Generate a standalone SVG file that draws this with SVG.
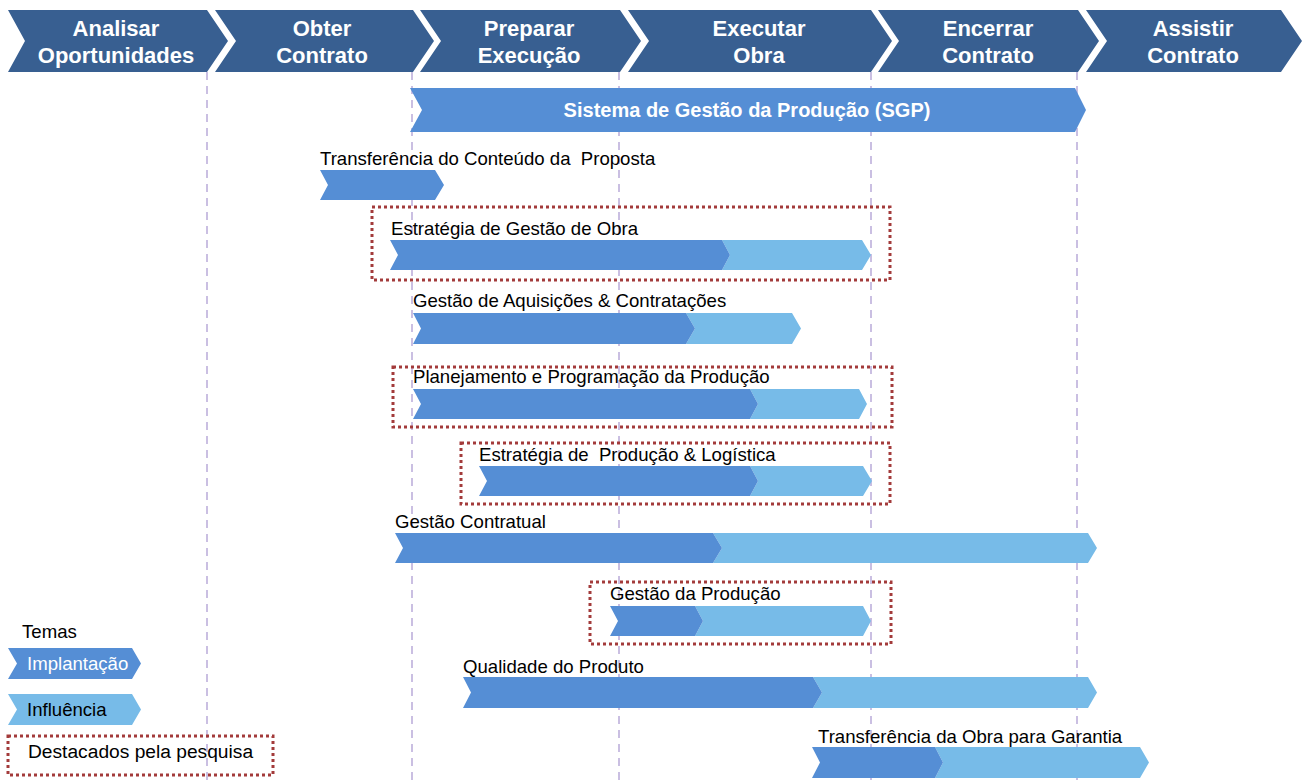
<svg xmlns="http://www.w3.org/2000/svg" width="1303" height="780" viewBox="0 0 1303 780">
<style>
.hdr{fill:#385F91}
.ht{font-family:"Liberation Sans",Arial,sans-serif;font-weight:bold;font-size:22px;fill:#fff;text-anchor:middle}
.dk{fill:#558ED5}
.lt{fill:#77BBE8}
.lbl{font-family:"Liberation Sans",Arial,sans-serif;font-size:18.6px;fill:#000;white-space:pre}
.grid{stroke:#B9AAD9;stroke-width:1.5;stroke-dasharray:8 6;fill:none}
.hl{fill:none;stroke:#A33B3B;stroke-width:3;stroke-dasharray:3 3}
</style>
<rect width="1303" height="780" fill="#fff"/>
<g id="gridlines">
<line class="grid" x1="207" y1="72" x2="207" y2="780"/>
<line class="grid" x1="412" y1="72" x2="412" y2="780"/>
<line class="grid" x1="619" y1="72" x2="619" y2="780"/>
<line class="grid" x1="871" y1="72" x2="871" y2="780"/>
<line class="grid" x1="1077" y1="72" x2="1077" y2="780"/>
</g>
<g id="phase-analisar">
<polygon class="hdr" points="8,10 207,10 228,41 207,72 8,72 25,41"/>
<text class="ht" x="116" y="36">Analisar</text>
<text class="ht" x="116" y="63">Oportunidades</text>
</g>
<g id="phase-obter">
<polygon class="hdr" points="215,10 413,10 434,41 413,72 215,72 236,41"/>
<text class="ht" x="322" y="36">Obter</text>
<text class="ht" x="322" y="63">Contrato</text>
</g>
<g id="phase-preparar">
<polygon class="hdr" points="420,10 620,10 641,41 620,72 420,72 441,41"/>
<text class="ht" x="529" y="36">Preparar</text>
<text class="ht" x="529" y="63">Execução</text>
</g>
<g id="phase-executar">
<polygon class="hdr" points="628,10 871,10 892,41 871,72 628,72 649,41"/>
<text class="ht" x="759" y="36">Executar</text>
<text class="ht" x="759" y="63">Obra</text>
</g>
<g id="phase-encerrar">
<polygon class="hdr" points="878,10 1078,10 1099,41 1078,72 878,72 899,41"/>
<text class="ht" x="988" y="36">Encerrar</text>
<text class="ht" x="988" y="63">Contrato</text>
</g>
<g id="phase-assistir">
<polygon class="hdr" points="1086,10 1281,10 1302,41 1281,72 1086,72 1107,41"/>
<text class="ht" x="1193" y="36">Assistir</text>
<text class="ht" x="1193" y="63">Contrato</text>
</g>
<g id="sgp">
<polygon class="dk" points="410,88 1075,88 1086,110 1075,132 410,132 422,110"/>
<text x="747" y="117" style="font-family:'Liberation Sans',Arial,sans-serif;font-weight:bold;font-size:20px;fill:#fff;text-anchor:middle">Sistema de Gestão da Produção (SGP)</text>
</g>
<g id="transf-proposta">
<text class="lbl" x="320" y="165" xml:space="preserve">Transferência do Conteúdo da  Proposta</text>
<polygon class="dk" points="320,170 435,170 444,185 435,200 320,200 328,185"/>
</g>
<g id="estrategia-obra">
<rect class="hl" x="372" y="207" width="518" height="73"/>
<text class="lbl" x="391" y="235">Estratégia de Gestão de Obra</text>
<polygon class="lt" points="722,240 862,240 871,255 862,270 722,270 730,255"/>
<polygon class="dk" points="390,240 722,240 730,255 722,270 390,270 398,255"/>
</g>
<g id="aquisicoes">
<text class="lbl" x="413" y="307">Gestão de Aquisições &amp; Contratações</text>
<polygon class="lt" points="686,313 792,313 801,328.5 792,344 686,344 695,328.5"/>
<polygon class="dk" points="413,313 686,313 695,328.5 686,344 413,344 421,328.5"/>
</g>
<g id="planejamento">
<rect class="hl" x="393" y="367" width="499" height="60"/>
<text class="lbl" x="413" y="383">Planejamento e Programação da Produção</text>
<polygon class="lt" points="750,389 859,389 867,404 859,419 750,419 758,404"/>
<polygon class="dk" points="413,389 750,389 758,404 750,419 413,419 421,404"/>
</g>
<g id="producao-logistica">
<rect class="hl" x="461" y="443" width="429" height="61"/>
<text class="lbl" x="479" y="461" xml:space="preserve">Estratégia de  Produção &amp; Logística</text>
<polygon class="lt" points="750,466 863,466 872,481 863,496 750,496 758,481"/>
<polygon class="dk" points="479,466 750,466 758,481 750,496 479,496 487,481"/>
</g>
<g id="contratual">
<text class="lbl" x="395" y="528">Gestão Contratual</text>
<polygon class="lt" points="713,533 1088,533 1097,548 1088,563 713,563 722,548"/>
<polygon class="dk" points="395,533 713,533 722,548 713,563 395,563 403,548"/>
</g>
<g id="gestao-producao">
<rect class="hl" x="590" y="582" width="301" height="62"/>
<text class="lbl" x="610" y="600">Gestão da Produção</text>
<polygon class="lt" points="695,606 863,606 871,621 863,636 695,636 703,621"/>
<polygon class="dk" points="610,606 695,606 703,621 695,636 610,636 618,621"/>
</g>
<g id="qualidade">
<text class="lbl" x="463" y="673">Qualidade do Produto</text>
<polygon class="lt" points="813,677 1088,677 1097,692.5 1088,708 813,708 822,692.5"/>
<polygon class="dk" points="463,677 813,677 822,692.5 813,708 463,708 471,692.5"/>
</g>
<g id="transf-garantia">
<text class="lbl" x="818" y="743">Transferência da Obra para Garantia</text>
<polygon class="lt" points="935,747 1140,747 1149,762.5 1140,778 935,778 943,762.5"/>
<polygon class="dk" points="812,747 935,747 943,762.5 935,778 812,778 820,762.5"/>
</g>
<g id="legend">
<text class="lbl" x="22" y="638">Temas</text>
<polygon class="dk" points="8,648 132,648 141,663.5 132,679 8,679 17,663.5"/>
<text class="lbl" x="27" y="670" style="fill:#fff">Implantação</text>
<polygon class="lt" points="8,694 132,694 141,709.5 132,725 8,725 17,709.5"/>
<text class="lbl" x="27" y="716">Influência</text>
<rect class="hl" x="8" y="736" width="265" height="39"/>
<text class="lbl" x="28" y="758" style="font-size:19.2px">Destacados pela pesquisa</text>
</g>
</svg>
